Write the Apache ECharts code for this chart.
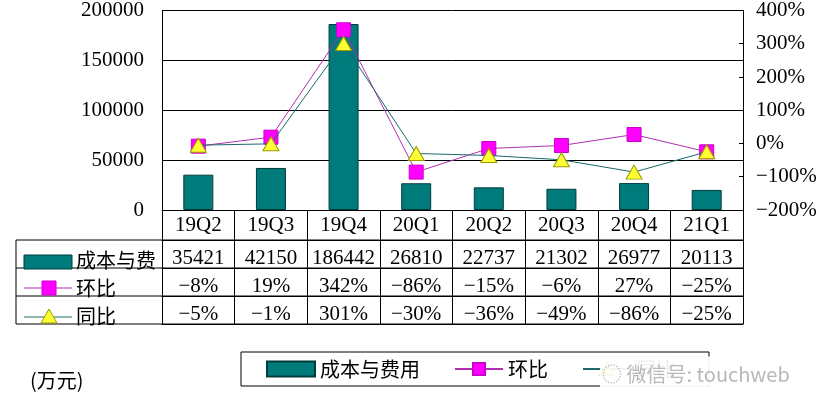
<!DOCTYPE html>
<html>
<head>
<meta charset="utf-8">
<script src="https://cdn.jsdelivr.net/npm/echarts@6/dist/echarts.min.js"></script>
<style>
  html, body { margin: 0; padding: 0; background: #fff; }
  #chart { width: 823px; height: 406px; }
</style>
</head>
<body>
<div id="chart"></div>
<script>
// data
const quarters = ['19Q2', '19Q3', '19Q4', '20Q1', '20Q2', '20Q3', '20Q4', '21Q1'];
const cost = [35421, 42150, 186442, 26810, 22737, 21302, 26977, 20113];
const qoq = [-8, 19, 342, -86, -15, -6, 27, -25];   // 环比 %
const yoy = [-5, -1, 301, -30, -36, -49, -86, -25]; // 同比 %

const FONT = "'Liberation Serif', 'Noto Sans CJK SC', serif";
const CJK = "'Noto Sans CJK SC', sans-serif";
const TEAL = '#007b7b';
const MAG = '#ff00ff';

// layout
const gridLeft = 162, gridRight = 743, axisY = 210;
const rowLines = [240, 268, 296, 324];
const tableLeft = 16;

const minus = s => String(s).replace('-', '\u2212');
const pct = v => minus(v + '%');

function rowAxis(data, offset, showLabel) {
  return {
    type: 'category',
    data: data,
    position: 'bottom',
    offset: offset,
    axisLine: { show: true, onZero: false, lineStyle: { color: '#000', width: 1 } },
    axisTick: { show: false },
    axisLabel: {
      show: showLabel, interval: 0, margin: 8,
      fontSize: 21, fontFamily: FONT, color: '#000'
    },
    splitLine: { show: false }
  };
}

const chart = echarts.init(document.getElementById('chart'));

// table borders, row header keys and notes
const header = [];
rowLines.forEach(y => {
  header.push({ type: 'line', shape: { x1: tableLeft, y1: y, x2: gridRight, y2: y },
    style: { stroke: '#000', lineWidth: 1 } });
});
header.push({ type: 'line', shape: { x1: tableLeft, y1: rowLines[0], x2: tableLeft, y2: rowLines[3] },
  style: { stroke: '#000', lineWidth: 1 } });
header.push({ type: 'rect', shape: { x: 24, y: 255, width: 48, height: 14 },
  style: { fill: TEAL, stroke: '#003c3c', lineWidth: 1 } });
header.push({ type: 'line', shape: { x1: 24, y1: 288, x2: 72, y2: 288 },
  style: { stroke: '#b030b0', lineWidth: 1 } });
header.push({ type: 'rect', shape: { x: 42, y: 281, width: 14, height: 14 },
  style: { fill: MAG, stroke: '#cc00cc', lineWidth: 1 } });
header.push({ type: 'line', shape: { x1: 24, y1: 317, x2: 72, y2: 317 },
  style: { stroke: '#1a6a6a', lineWidth: 1 } });
header.push({ type: 'polygon', shape: { points: [[49, 309], [41, 323], [57, 323]] },
  style: { fill: '#ffff33', stroke: '#999900', lineWidth: 1 } });
[['成本与费', 260], ['环比', 288], ['同比', 316]].forEach(([t, y]) => {
  header.push({ type: 'text', x: 76, y: y,
    style: { text: t, fontSize: 20, fontFamily: CJK, fill: '#000', verticalAlign: 'middle' } });
});
header.push({ type: 'text', x: 30, y: 380,
  style: { text: '(万元)', fontSize: 20, fontFamily: CJK, fill: '#000', verticalAlign: 'middle' } });
header.push({ type: 'text', x: 600, y: 374, zlevel: 2,
  style: { text: '◌ 微信号: touchweb', fontSize: 20, fontFamily: CJK, fill: '#b8b8b8',
    verticalAlign: 'middle', backgroundColor: 'rgba(255,255,255,0.93)', padding: [9, 2, 6, 2] } });

chart.setOption({
  animation: false,
  grid: { left: gridLeft, right: 823 - gridRight, top: 8, bottom: 406 - axisY },
  legend: {
    left: 241, top: 352,
    data: [{ name: '成本与费用', icon: 'rect' }, '环比', '同比'],
    itemWidth: 48, itemHeight: 15, itemGap: 34,
    borderColor: '#000', borderWidth: 1, borderRadius: 0,
    padding: [7, 33, 7, 25],
    textStyle: { fontSize: 20, fontFamily: CJK, color: '#000' }
  },
  xAxis: [
    {
      type: 'category',
      data: quarters,
      position: 'bottom',
      axisLine: { show: true, lineStyle: { color: '#000', width: 1 } },
      axisTick: { show: true, length: rowLines[3] - axisY, lineStyle: { color: '#000', width: 1 } },
      axisLabel: { interval: 0, margin: 5, fontSize: 21, fontFamily: FONT, color: '#000' }
    },
    rowAxis(cost.map(String), rowLines[0] - axisY, true),
    rowAxis(qoq.map(pct), rowLines[1] - axisY, true),
    rowAxis(yoy.map(pct), rowLines[2] - axisY, true),
    rowAxis(quarters, rowLines[3] - axisY, false)
  ],
  yAxis: [
    {
      type: 'value', min: 0, max: 200000, interval: 50000,
      axisLine: { show: true, lineStyle: { color: '#000', width: 1 } },
      axisTick: { show: false },
      axisLabel: { margin: 18, fontSize: 21, fontFamily: FONT, color: '#000', formatter: v => String(v) },
      splitLine: { show: true, lineStyle: { color: '#000', width: 1 } }
    },
    {
      type: 'value', min: -200, max: 400, interval: 100,
      position: 'right',
      axisLine: { show: true, lineStyle: { color: '#000', width: 1 } },
      axisTick: { show: true, inside: true, length: 4, lineStyle: { color: '#000' } },
      axisLabel: { margin: 13, fontSize: 21, fontFamily: FONT, color: '#000', formatter: pct },
      splitLine: { show: false }
    }
  ],
  series: [
    {
      name: '成本与费用', type: 'bar', data: cost, barWidth: 30,
      itemStyle: { color: TEAL, borderColor: '#003c3c', borderWidth: 1 }
    },
    {
      name: '环比', type: 'line', yAxisIndex: 1, data: qoq,
      symbol: 'rect', symbolSize: 14,
      lineStyle: { color: '#b030b0', width: 1 },
      itemStyle: { color: MAG, borderColor: '#cc00cc', borderWidth: 1 },
      z: 3
    },
    {
      name: '同比', type: 'line', yAxisIndex: 1, data: yoy,
      symbol: 'triangle', symbolSize: [16, 14],
      lineStyle: { color: '#1a6a6a', width: 1 },
      itemStyle: { color: '#ffff33', borderColor: '#999900', borderWidth: 1 },
      z: 4
    }
  ],
  graphic: header
});
</script>
</body>
</html>
